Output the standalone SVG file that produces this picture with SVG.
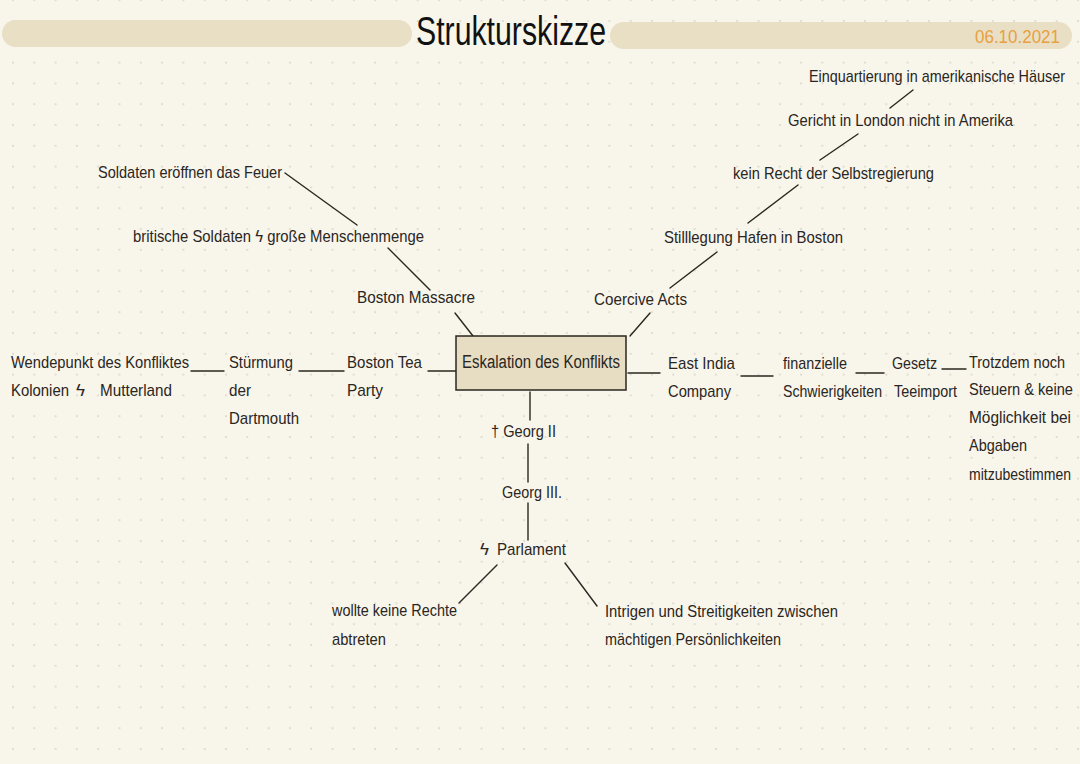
<svg xmlns="http://www.w3.org/2000/svg" width="1080" height="764" viewBox="0 0 1080 764">
<defs>
<pattern id="dots" x="12" y="-0.8" width="21.3" height="20.8" patternUnits="userSpaceOnUse">
<circle cx="1" cy="1" r="0.9" fill="#d6d2c6"/>
</pattern>
<style>
text{font-family:"Liberation Sans",Arial,sans-serif;font-size:17px;fill:#2a2622}
.t{font-size:40px;fill:#111}
.d{font-size:18px;fill:#e8a040}
.c{font-size:18px}
.ln{stroke:#2a2622;stroke-width:1.4;fill:none;stroke-linecap:round}
</style>
</defs>
<rect width="1080" height="764" fill="#f8f5eb"/>
<rect width="1080" height="764" fill="url(#dots)"/>

<g id="header">
<rect x="2" y="20" width="410" height="27" rx="13.5" fill="#e8dfc5"/>
<rect x="610" y="22" width="462" height="27" rx="13.5" fill="#e8dfc5"/>
<text class="t" x="416" y="45" textLength="190" lengthAdjust="spacingAndGlyphs">Strukturskizze</text>
<text class="d" x="975" y="43" textLength="85" lengthAdjust="spacingAndGlyphs">06.10.2021</text>
</g>

<g id="connectors">
<line class="ln" x1="285" y1="173" x2="357" y2="225"/>
<line class="ln" x1="388" y1="248" x2="430" y2="290"/>
<line class="ln" x1="455" y1="313" x2="473" y2="336"/>
<line class="ln" x1="650" y1="313" x2="630" y2="336"/>
<line class="ln" x1="670" y1="288" x2="717" y2="252"/>
<line class="ln" x1="748" y1="223" x2="798" y2="185"/>
<line class="ln" x1="820" y1="160" x2="858" y2="134"/>
<line class="ln" x1="890" y1="108" x2="913" y2="90"/>
<line class="ln" x1="428" y1="371" x2="456" y2="371"/>
<line class="ln" x1="299" y1="371" x2="344" y2="371"/>
<line class="ln" x1="191" y1="371" x2="224" y2="371"/>
<line class="ln" x1="628" y1="373" x2="660" y2="373"/>
<line class="ln" x1="741" y1="376" x2="773" y2="376"/>
<line class="ln" x1="856" y1="373" x2="884" y2="373"/>
<line class="ln" x1="942" y1="369" x2="966" y2="369"/>
<line class="ln" x1="530" y1="392" x2="530" y2="420"/>
<line class="ln" x1="528" y1="444" x2="528" y2="482"/>
<line class="ln" x1="528" y1="503" x2="528" y2="540"/>
<line class="ln" x1="497" y1="565" x2="459" y2="603"/>
<line class="ln" x1="565" y1="563" x2="597" y2="606"/>
</g>

<g id="center">
<rect x="456" y="336" width="170" height="54" fill="#e6ddc3" stroke="#2a2622" stroke-width="1.5"/>
<text class="c" x="462" y="368" textLength="158" lengthAdjust="spacingAndGlyphs">Eskalation des Konflikts</text>
</g>

<g id="n-einquartierung"><text x="809" y="82" textLength="256" lengthAdjust="spacingAndGlyphs">Einquartierung in amerikanische Häuser</text></g>
<g id="n-gericht"><text x="788" y="126" textLength="225" lengthAdjust="spacingAndGlyphs">Gericht in London nicht in Amerika</text></g>
<g id="n-selbstregierung"><text x="733" y="179" textLength="201" lengthAdjust="spacingAndGlyphs">kein Recht der Selbstregierung</text></g>
<g id="n-stilllegung"><text x="664" y="243" textLength="179" lengthAdjust="spacingAndGlyphs">Stilllegung Hafen in Boston</text></g>
<g id="n-coercive"><text x="594" y="305" textLength="93" lengthAdjust="spacingAndGlyphs">Coercive Acts</text></g>

<g id="n-feuer"><text x="98" y="178" textLength="184" lengthAdjust="spacingAndGlyphs">Soldaten eröffnen das Feuer</text></g>
<g id="n-soldaten"><text x="133" y="242" textLength="291" lengthAdjust="spacingAndGlyphs">britische Soldaten ϟ große Menschenmenge</text></g>
<g id="n-massacre"><text x="357" y="303" textLength="118" lengthAdjust="spacingAndGlyphs">Boston Massacre</text></g>

<g id="n-teaparty">
<text x="347" y="368" textLength="75" lengthAdjust="spacingAndGlyphs">Boston Tea</text>
<text x="347" y="396" textLength="36" lengthAdjust="spacingAndGlyphs">Party</text>
</g>
<g id="n-stuermung">
<text x="229" y="368" textLength="64" lengthAdjust="spacingAndGlyphs">Stürmung</text>
<text x="229" y="396" textLength="22" lengthAdjust="spacingAndGlyphs">der</text>
<text x="229" y="424" textLength="70" lengthAdjust="spacingAndGlyphs">Dartmouth</text>
</g>
<g id="n-wendepunkt">
<text x="11" y="368" textLength="178" lengthAdjust="spacingAndGlyphs">Wendepunkt des Konfliktes</text>
<text x="11" y="396" textLength="58" lengthAdjust="spacingAndGlyphs">Kolonien</text>
<text x="76" y="396">ϟ</text>
<text x="100" y="396" textLength="72" lengthAdjust="spacingAndGlyphs">Mutterland</text>
</g>

<g id="n-eastindia">
<text x="668" y="369" textLength="67" lengthAdjust="spacingAndGlyphs">East India</text>
<text x="668" y="397" textLength="63" lengthAdjust="spacingAndGlyphs">Company</text>
</g>
<g id="n-finanziell">
<text x="783" y="369" textLength="64" lengthAdjust="spacingAndGlyphs">finanzielle</text>
<text x="783" y="397" textLength="99" lengthAdjust="spacingAndGlyphs">Schwierigkeiten</text>
</g>
<g id="n-gesetz">
<text x="892" y="369" textLength="45" lengthAdjust="spacingAndGlyphs">Gesetz</text>
<text x="894" y="397" textLength="63" lengthAdjust="spacingAndGlyphs">Teeimport</text>
</g>
<g id="n-trotzdem">
<text x="969" y="368" textLength="96" lengthAdjust="spacingAndGlyphs">Trotzdem noch</text>
<text x="969" y="395" textLength="104" lengthAdjust="spacingAndGlyphs">Steuern &amp; keine</text>
<text x="969" y="423" textLength="102" lengthAdjust="spacingAndGlyphs">Möglichkeit bei</text>
<text x="969" y="451" textLength="58" lengthAdjust="spacingAndGlyphs">Abgaben</text>
<text x="969" y="480" textLength="102" lengthAdjust="spacingAndGlyphs">mitzubestimmen</text>
</g>

<g id="n-georg2"><text x="491" y="437" textLength="65" lengthAdjust="spacingAndGlyphs">† Georg II</text></g>
<g id="n-georg3"><text x="502" y="498" textLength="60" lengthAdjust="spacingAndGlyphs">Georg III.</text></g>
<g id="n-parlament">
<text x="480" y="555">ϟ</text>
<text x="497" y="555" textLength="69" lengthAdjust="spacingAndGlyphs">Parlament</text>
</g>
<g id="n-rechte">
<text x="332" y="616" textLength="125" lengthAdjust="spacingAndGlyphs">wollte keine Rechte</text>
<text x="332" y="645" textLength="54" lengthAdjust="spacingAndGlyphs">abtreten</text>
</g>
<g id="n-intrigen">
<text x="605" y="617" textLength="233" lengthAdjust="spacingAndGlyphs">Intrigen und Streitigkeiten zwischen</text>
<text x="605" y="645" textLength="176" lengthAdjust="spacingAndGlyphs">mächtigen Persönlichkeiten</text>
</g>
</svg>
